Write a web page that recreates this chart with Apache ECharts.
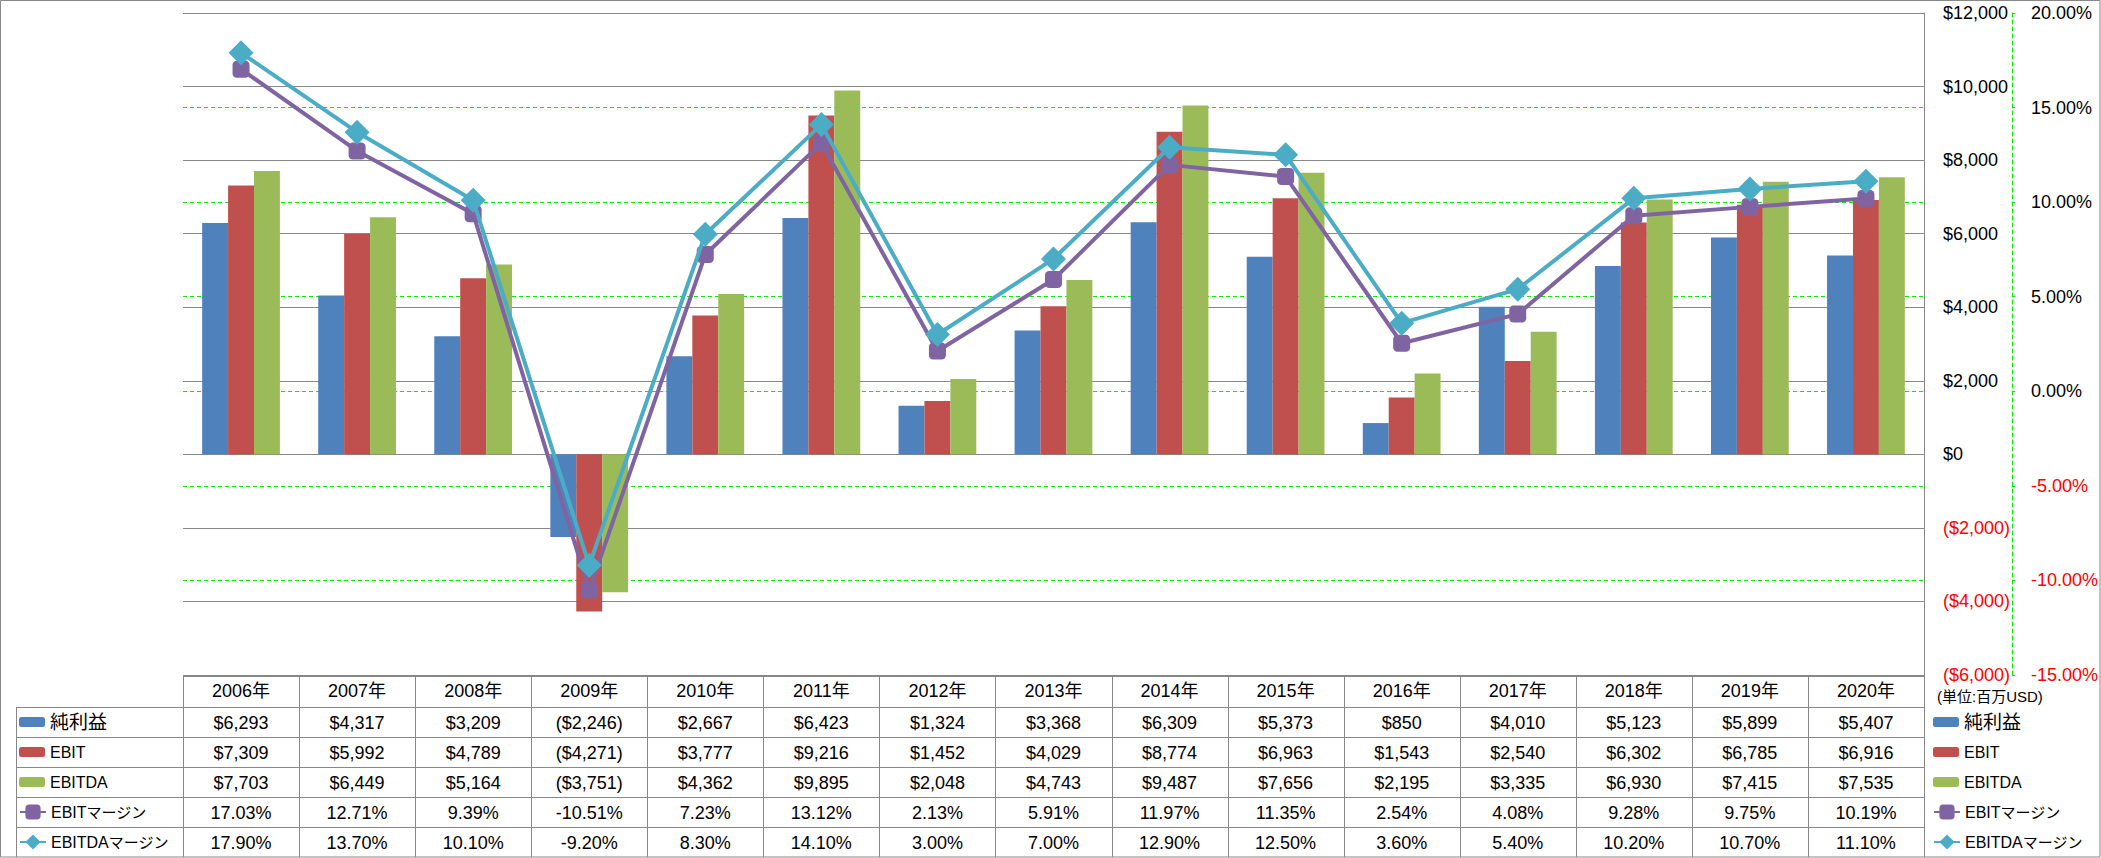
<!DOCTYPE html>
<html><head><meta charset="utf-8">
<script src="https://cdn.jsdelivr.net/npm/echarts@6/dist/echarts.min.js"></script>
<style>html,body{margin:0;padding:0;background:#fff}#c{width:2101px;height:858px}</style>
</head><body><div id="c"></div>
<script>
// ---- data ----
const years = ['2006','2007','2008','2009','2010','2011','2012','2013','2014','2015','2016','2017','2018','2019','2020'];
const categories = years.map(y => y + '年');
const netIncome = [6293,4317,3209,-2246,2667,6423,1324,3368,6309,5373,850,4010,5123,5899,5407];
const ebit = [7309,5992,4789,-4271,3777,9216,1452,4029,8774,6963,1543,2540,6302,6785,6916];
const ebitda = [7703,6449,5164,-3751,4362,9895,2048,4743,9487,7656,2195,3335,6930,7415,7535];
const ebitMargin = [17.03,12.71,9.39,-10.51,7.23,13.12,2.13,5.91,11.97,11.35,2.54,4.08,9.28,9.75,10.19];
const ebitdaMargin = [17.90,13.70,10.10,-9.20,8.30,14.10,3.00,7.00,12.90,12.50,3.60,5.40,10.20,10.70,11.10];
const seriesNames = ['純利益','EBIT','EBITDA','EBITマージン','EBITDAマージン'];
const unitLabel = '(単位:百万USD)';
const leftAxisRange = {min:-6000, max:12000, interval:2000};
const rightAxisRange = {min:-15, max:20, interval:5};

// ---- style ----
const FONT = "'Liberation Sans', 'Noto Sans CJK JP', sans-serif";
const GRAY = '#878787';
const GREEN = '#00F000';
const COLORS = ['#4F81BD','#C0504D','#9BBB59','#8064A2','#4BACC6'];

function money(v){ const s = '$' + Math.abs(v).toLocaleString('en-US'); return v < 0 ? '(' + s + ')' : s; }
function pct(v){ return v.toFixed(2) + '%'; }

const chart = echarts.init(document.getElementById('c'), null, {renderer:'svg'});

const legendText = {fontSize:16, fontFamily:FONT, color:'#000', lineHeight:20,
  rich:{big:{fontSize:19, fontFamily:FONT, color:'#000', lineHeight:20},
        k:{fontSize:15, fontFamily:FONT, color:'#000', lineHeight:20}}};
function legendFmt(name){
  if (/^[\u4e00-\u9fff]+$/.test(name)) return '{big|' + name + '}';
  const m = name.match(/^([A-Za-z]+)(.*)$/);
  return m && m[2] ? m[1] + '{k|' + m[2] + '}' : name;
}
function legend(names, left, top, ih){
  return {data:names, left:left, top:top, orient:'vertical', padding:0, itemGap:10,
          itemWidth:26, itemHeight:ih, selectedMode:false, textStyle:legendText, formatter:legendFmt};
}

const option = {
  animation:false,
  textStyle:{fontFamily:FONT},
  color:COLORS,
  grid:{left:183, right:176, top:13, bottom:183},
  xAxis:{type:'category', data:categories, axisLine:{show:false}, axisTick:{show:false},
         axisLabel:{show:false}, splitLine:{show:false}},
  yAxis:[
    {type:'value', position:'right', min:leftAxisRange.min, max:leftAxisRange.max, interval:leftAxisRange.interval,
     axisLine:{show:true, lineStyle:{color:GRAY, width:1}}, axisTick:{show:false},
     axisLabel:{margin:19, fontSize:18, color:'#000', fontFamily:FONT,
       formatter:v => v < 0 ? '{n|' + money(v) + '}' : money(v),
       rich:{n:{color:'#FF0000', fontSize:18, fontFamily:FONT}}},
     splitLine:{show:true, lineStyle:{color:GRAY, width:1}}},
    {type:'value', position:'right', offset:88, min:rightAxisRange.min, max:rightAxisRange.max, interval:rightAxisRange.interval,
     axisLine:{show:true, lineStyle:{color:GREEN, width:1, type:[4,3]}},
     axisTick:{show:true, length:3, lineStyle:{color:GREEN, width:1}},
     axisLabel:{margin:19, fontSize:18, color:'#000', fontFamily:FONT,
       formatter:v => v < 0 ? '{n|' + pct(v) + '}' : pct(v),
       rich:{n:{color:'#FF0000', fontSize:18, fontFamily:FONT}}},
     splitLine:{show:true, showMinLine:false, showMaxLine:false, lineStyle:{color:GREEN, width:1, type:[4,3]}}}
  ],
  legend:[
    legend(seriesNames.slice(0,3), 1933, 712, 10),
    legend(seriesNames.slice(3), 1933, 802, 19),
    legend(seriesNames.slice(0,3), 19, 712, 10),
    legend(seriesNames.slice(3), 19, 802, 19)
  ],
  series:[
    {name:seriesNames[0], type:'bar', data:netIncome, barGap:'0%', barCategoryGap:'33%', itemStyle:{color:COLORS[0]}},
    {name:seriesNames[1], type:'bar', data:ebit, itemStyle:{color:COLORS[1]}},
    {name:seriesNames[2], type:'bar', data:ebitda, itemStyle:{color:COLORS[2]}},
    {name:seriesNames[3], type:'line', yAxisIndex:1, data:ebitMargin, symbol:'roundRect', symbolSize:17,
     lineStyle:{width:4, color:COLORS[3]}, itemStyle:{color:COLORS[3]}, z:5},
    {name:seriesNames[4], type:'line', yAxisIndex:1, data:ebitdaMargin, symbol:'diamond', symbolSize:25,
     lineStyle:{width:4, color:COLORS[4]}, itemStyle:{color:COLORS[4]}, z:6}
  ]
};
chart.setOption(option);

// ---- data table drawn under the plot, aligned on the category axis ----
const g = [];
const xs = categories.map((c,i) => chart.convertToPixel({xAxisIndex:0}, i));
const colW = xs.length > 1 ? xs[1] - xs[0] : 116;
const tableLeft = xs[0] - colW/2, tableRight = xs[xs.length-1] + colW/2;
const headTop = 675.5, headBottom = 707;
const rowH = 30;
const rowsData = [netIncome.map(money), ebit.map(money), ebitda.map(money), ebitMargin.map(pct), ebitdaMargin.map(pct)];
function hline(x1,x2,y){ g.push({type:'line', shape:{x1:x1,y1:Math.round(y)+0.5,x2:x2,y2:Math.round(y)+0.5}, style:{stroke:GRAY, lineWidth:1}, silent:true}); }
function vline(x,y1,y2){ g.push({type:'line', shape:{x1:Math.round(x)+0.5,y1:y1,x2:Math.round(x)+0.5,y2:y2}, style:{stroke:GRAY, lineWidth:1}, silent:true}); }
hline(tableLeft, tableRight, headTop);
for (let r = 0; r < 5; r++) hline(16, tableRight, headBottom + r*rowH);
vline(16, headBottom, 857);
for (let k = 0; k <= categories.length; k++) vline(tableLeft + k*colW, headTop, 857);
vline(tableRight, 13, 857);
categories.forEach((c,i) => {
  g.push({type:'text', x:xs[i], y:(headTop+headBottom)/2, silent:true,
    style:{text:c, fontSize:18, fontFamily:FONT, fill:'#000', align:'center', verticalAlign:'middle'}});
  rowsData.forEach((row,r) => {
    g.push({type:'text', x:xs[i], y:headBottom + r*rowH + rowH/2 + 0.5, silent:true,
      style:{text:row[i], fontSize:18, fontFamily:FONT, fill:'#000', align:'center', verticalAlign:'middle'}});
  });
});
g.push({type:'text', x:1937, y:696, silent:true,
  style:{text:unitLabel, fontSize:15, fontFamily:FONT, fill:'#000', align:'left', verticalAlign:'middle'}});
g.push({type:'rect', shape:{x:0.5, y:0.5, width:2099.5, height:856.5}, silent:true,
  style:{fill:'none', stroke:GRAY, lineWidth:1}});
chart.setOption({graphic:g});
</script></body></html>
